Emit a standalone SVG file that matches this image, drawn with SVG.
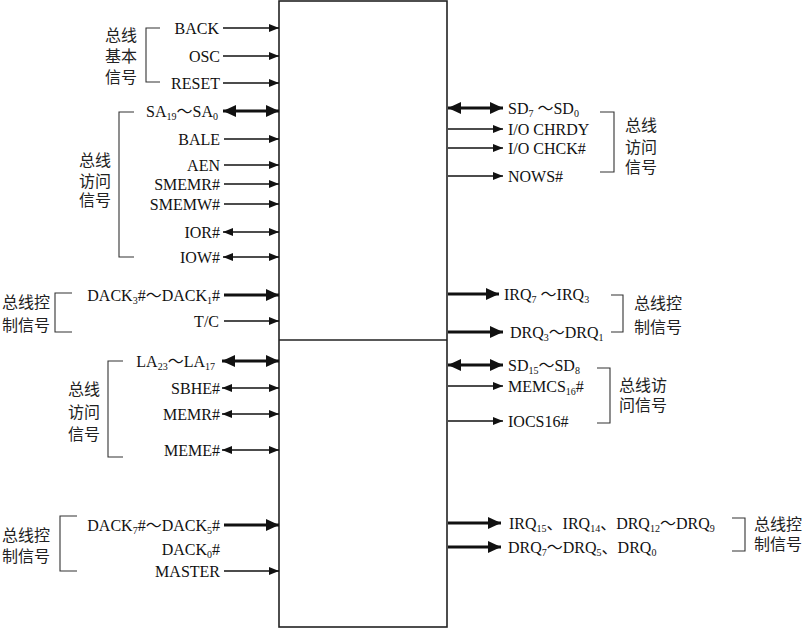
<svg xmlns="http://www.w3.org/2000/svg" width="805" height="629" viewBox="0 0 805 629">
<style>
.t{font-family:"Liberation Serif","Noto Sans CJK SC",serif;font-size:16px;fill:#111}
.l{text-anchor:end}
.s{font-size:10px}
.c{font-family:"Noto Sans CJK SC","Noto Sans CJK JP",sans-serif;font-size:16px;fill:#222}
.thin{stroke:#111;stroke-width:1.3;fill:none}
.thick{stroke:#111;stroke-width:3;fill:none}
.br{stroke:#333;stroke-width:1.1;fill:none}
.a1{marker-end:url(#h1)}
.d1{marker-end:url(#h1);marker-start:url(#h1)}
.a2{marker-end:url(#h2)}
.d2{marker-end:url(#h2);marker-start:url(#h2)}
</style>
<defs>
<marker id="h1" markerUnits="userSpaceOnUse" markerWidth="10" markerHeight="8" refX="10" refY="4" orient="auto-start-reverse"><path d="M0,0 L10,4 L0,8 z" fill="#111"/></marker>
<marker id="h2" markerUnits="userSpaceOnUse" markerWidth="13" markerHeight="12" refX="13" refY="6" orient="auto-start-reverse"><path d="M0,0 L13,6 L0,12 z" fill="#111"/></marker>
</defs>
<rect width="805" height="629" fill="#fff"/>
<g id="bus-box">
<rect x="279" y="1" width="168" height="626" fill="#fff" stroke="#222" stroke-width="1.6"/>
<line x1="279" y1="340" x2="447" y2="340" stroke="#222" stroke-width="1.6"/>
</g>
<g id="connectors">
<line class="thin a1" x1="223" y1="28" x2="279" y2="28"/>
<line class="thin a1" x1="223" y1="56" x2="279" y2="56"/>
<line class="thin a1" x1="223" y1="83" x2="279" y2="83"/>
<line class="thick d2" x1="223" y1="111" x2="279" y2="111"/>
<line class="thin a1" x1="224" y1="139" x2="279" y2="139"/>
<line class="thin a1" x1="224" y1="165" x2="279" y2="165"/>
<line class="thin a1" x1="224" y1="184" x2="279" y2="184"/>
<line class="thin a1" x1="224" y1="204" x2="279" y2="204"/>
<line class="thin d1" x1="223" y1="232" x2="279" y2="232"/>
<line class="thin d1" x1="223" y1="257" x2="279" y2="257"/>
<line class="thick a2" x1="224" y1="295" x2="279" y2="295"/>
<line class="thin a1" x1="224" y1="321" x2="279" y2="321"/>
<line class="thick d2" x1="222" y1="361" x2="279" y2="361"/>
<line class="thin d1" x1="222" y1="388" x2="279" y2="388"/>
<line class="thin d1" x1="222" y1="414" x2="279" y2="414"/>
<line class="thin d1" x1="222" y1="450" x2="279" y2="450"/>
<line class="thick a2" x1="224" y1="525" x2="279" y2="525"/>
<line class="thin a1" x1="224" y1="571" x2="279" y2="571"/>
<line class="thick d2" x1="448" y1="108" x2="503" y2="108"/>
<line class="thin a1" x1="448" y1="129" x2="503" y2="129"/>
<line class="thin a1" x1="448" y1="148" x2="503" y2="148"/>
<line class="thin a1" x1="448" y1="176" x2="503" y2="176"/>
<line class="thick a2" x1="448" y1="294" x2="499" y2="294"/>
<line class="thick a2" x1="448" y1="332" x2="503" y2="332"/>
<line class="thick d2" x1="448" y1="365" x2="503" y2="365"/>
<line class="thin a1" x1="448" y1="386" x2="503" y2="386"/>
<line class="thin a1" x1="448" y1="421" x2="503" y2="421"/>
<line class="thick a2" x1="448" y1="523" x2="501" y2="523"/>
<line class="thick a2" x1="448" y1="547" x2="501" y2="547"/>
</g>
<g id="left-signals">
<text class="t l" x="219" y="34">BACK</text>
<text class="t l" x="220" y="62">OSC</text>
<text class="t l" x="220" y="89">RESET</text>
<text class="t l" x="218" y="117">SA<tspan class="s" dy="3">19</tspan><tspan dy="-3">～SA</tspan><tspan class="s" dy="3">0</tspan></text>
<text class="t l" x="220" y="145">BALE</text>
<text class="t l" x="220" y="171">AEN</text>
<text class="t l" x="220" y="190">SMEMR#</text>
<text class="t l" x="220" y="210">SMEMW#</text>
<text class="t l" x="220" y="238">IOR#</text>
<text class="t l" x="220" y="263">IOW#</text>
<text class="t l" x="220" y="301">DACK<tspan class="s" dy="3">3</tspan><tspan dy="-3">#～DACK</tspan><tspan class="s" dy="3">1</tspan><tspan dy="-3">#</tspan></text>
<text class="t l" x="219" y="327">T/C</text>
<text class="t l" x="215" y="367">LA<tspan class="s" dy="3">23</tspan><tspan dy="-3">～LA</tspan><tspan class="s" dy="3">17</tspan></text>
<text class="t l" x="220" y="394">SBHE#</text>
<text class="t l" x="220" y="420">MEMR#</text>
<text class="t l" x="220" y="456">MEME#</text>
<text class="t l" x="220" y="531">DACK<tspan class="s" dy="3">7</tspan><tspan dy="-3">#～DACK</tspan><tspan class="s" dy="3">5</tspan><tspan dy="-3">#</tspan></text>
<text class="t l" x="220" y="555">DACK<tspan class="s" dy="3">0</tspan><tspan dy="-3">#</tspan></text>
<text class="t l" x="220" y="577">MASTER</text>
</g>
<g id="right-signals">
<text class="t" x="508" y="114">SD<tspan class="s" dy="3">7</tspan><tspan dy="-3"> ～SD</tspan><tspan class="s" dy="3">0</tspan></text>
<text class="t" x="508" y="135">I/O CHRDY</text>
<text class="t" x="508" y="154">I/O CHCK#</text>
<text class="t" x="508" y="182">NOWS#</text>
<text class="t" x="504" y="300">IRQ<tspan class="s" dy="3">7</tspan><tspan dy="-3"> ～IRQ</tspan><tspan class="s" dy="3">3</tspan></text>
<text class="t" x="510" y="338">DRQ<tspan class="s" dy="3">3</tspan><tspan dy="-3">～DRQ</tspan><tspan class="s" dy="3">1</tspan></text>
<text class="t" x="508" y="371">SD<tspan class="s" dy="3">15</tspan><tspan dy="-3">～SD</tspan><tspan class="s" dy="3">8</tspan></text>
<text class="t" x="508" y="392">MEMCS<tspan class="s" dy="3">16</tspan><tspan dy="-3">#</tspan></text>
<text class="t" x="508" y="427">IOCS16#</text>
<text class="t" x="509" y="529">IRQ<tspan class="s" dy="3">15</tspan><tspan dy="-3">、IRQ</tspan><tspan class="s" dy="3">14</tspan><tspan dy="-3">、DRQ</tspan><tspan class="s" dy="3">12</tspan><tspan dy="-3">～DRQ</tspan><tspan class="s" dy="3">9</tspan></text>
<text class="t" x="508" y="553">DRQ<tspan class="s" dy="3">7</tspan><tspan dy="-3">～DRQ</tspan><tspan class="s" dy="3">5</tspan><tspan dy="-3">、DRQ</tspan><tspan class="s" dy="3">0</tspan></text>
</g>
<g id="group-basic-left">
<path class="br" d="M160,28 H146 V82 H160"/>
<text class="c" x="105" y="41">总线<tspan x="105" dy="21">基本</tspan><tspan x="105" dy="21">信号</tspan></text>
</g>
<g id="group-access-left-1">
<path class="br" d="M134,112 H119 V257 H134"/>
<text class="c" x="79" y="166">总线<tspan x="79" dy="21">访问</tspan><tspan x="79" dy="19">信号</tspan></text>
</g>
<g id="group-control-left-1">
<path class="br" d="M72,293 H55 V332 H72"/>
<text class="c" x="2" y="308">总线控<tspan x="2" dy="23">制信号</tspan></text>
</g>
<g id="group-access-left-2">
<path class="br" d="M123,361 H108 V457 H123"/>
<text class="c" x="68" y="395">总线<tspan x="68" dy="23">访问</tspan><tspan x="68" dy="22">信号</tspan></text>
</g>
<g id="group-control-left-2">
<path class="br" d="M77,516 H60 V571 H77"/>
<text class="c" x="2" y="541">总线控<tspan x="2" dy="21">制信号</tspan></text>
</g>
<g id="group-access-right-1">
<path class="br" d="M600,112 H614 V172 H600"/>
<text class="c" x="625" y="131">总线<tspan x="625" dy="22">访问</tspan><tspan x="625" dy="20">信号</tspan></text>
</g>
<g id="group-control-right-1">
<path class="br" d="M611,295 H623 V332 H611"/>
<text class="c" x="634" y="309">总线控<tspan x="634" dy="24">制信号</tspan></text>
</g>
<g id="group-access-right-2">
<path class="br" d="M597,368 H610 V423 H597"/>
<text class="c" x="619" y="391">总线访<tspan x="619" dy="20">问信号</tspan></text>
</g>
<g id="group-control-right-2">
<path class="br" d="M732,518 H745 V551 H732"/>
<text class="c" x="754" y="530">总线控<tspan x="754" dy="20">制信号</tspan></text>
</g>
</svg>
